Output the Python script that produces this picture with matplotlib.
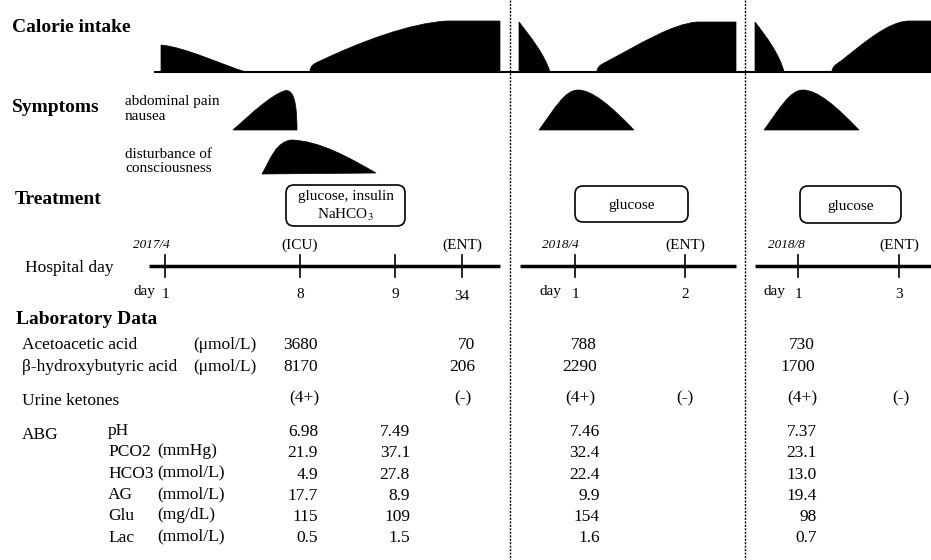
import matplotlib.pyplot as plt
import matplotlib.patches as mpatches
from matplotlib.path import Path

plt.rcParams['font.family'] = ['Liberation Serif', 'DejaVu Serif']
plt.rcParams['mathtext.fontset'] = 'stix'

# ---- data ----
episodes = ["2017/4", "2018/4", "2018/8"]
episode_days = [["1", "8", "9", "34"], ["1", "2"], ["1", "3"]]
day_notes = [["", "(ICU)", "", "(ENT)"], ["", "(ENT)"], ["", "(ENT)"]]
treatments = [["glucose, insulin", "NaHCO$_3$"], ["glucose"], ["glucose"]]

acetoacetic = ["3680", "70", "788", "730"]
hydroxybutyric = ["8170", "206", "2290", "1700"]
urine_ketones = ["(4+)", "(-)", "(4+)", "(-)", "(4+)", "(-)"]

abg_names = ["pH", "PCO2", "HCO3", "AG", "Glu", "Lac"]
abg_units = ["", "(mmHg)", "(mmol/L)", "(mmol/L)", "(mg/dL)", "(mmol/L)"]
abg_2017_day1 = ["6.98", "21.9", "4.9", "17.7", "115", "0.5"]
abg_2017_day9 = ["7.49", "37.1", "27.8", "8.9", "109", "1.5"]
abg_2018_4 = ["7.46", "32.4", "22.4", "9.9", "154", "1.6"]
abg_2018_8 = ["7.37", "23.1", "13.0", "19.4", "98", "0.7"]

# ---- layout (pixel space) ----
tl_extent = [(149, 500), (520, 736), (755, 931)]
tick_x = [[165, 300, 395, 462], [575, 685], [798, 899]]
date_x = [151, 560, 786]
day_word_x = [144, 550, 774]
box_extent = [(286, 405, 185, 226), (575, 688, 186, 222), (800, 901, 186, 223)]
divider_x = [510, 745]

fig = plt.figure(figsize=(9.31, 5.6), dpi=100)
ax = fig.add_axes([0, 0, 1, 1])
ax.set_xlim(0, 931)
ax.set_ylim(560, 0)
ax.axis('off')


def blob(start, segs):
    verts = [start]
    codes = [Path.MOVETO]
    for s in segs:
        if len(s) == 3:
            verts += list(s)
            codes += [Path.CURVE4] * 3
        else:
            verts.append(s[0])
            codes.append(Path.LINETO)
    verts.append(start)
    codes.append(Path.CLOSEPOLY)
    ax.add_patch(mpatches.PathPatch(Path(verts, codes), fc='black', ec='black', lw=0.5))


# headings
for txt, x, y in [("Calorie intake", 12, 27), ("Symptoms", 12, 108),
                  ("Treatment", 15, 200), ("Laboratory Data", 16, 319)]:
    ax.text(x, y, txt, fontsize=14, fontweight='bold', va='center')

# dividers
for x in divider_x:
    ax.plot([x, x], [0, 560], color='black', lw=1, ls=(0, (1.5, 1)))

# calorie intake
ax.plot([155, 931], [72, 72], color='black', lw=1.5)
blob((161, 72), [[(161, 45)], [(185, 47), (225, 66), (246, 72)]])
blob((310, 72), [[(310, 66), (313, 64), (320, 61)], [(360, 42), (410, 23), (447, 21)],
                 [(500, 21)], [(500, 72)]])
blob((519, 72), [[(519, 22)], [(530, 36), (545, 55), (550, 72)]])
blob((597, 72), [[(597, 67), (600, 65), (606, 62)], [(640, 44), (672, 24), (697, 22)],
                 [(736, 22)], [(736, 72)]])
blob((755, 72), [[(755, 22)], [(766, 36), (780, 55), (784, 72)]])
blob((832, 72), [[(832, 67), (835, 65), (841, 61)], [(865, 42), (888, 22), (908, 21)],
                 [(931, 21)], [(931, 72)]])

# symptoms
ax.text(125, 101, "abdominal pain", fontsize=11, va='center')
ax.text(125, 116, "nausea", fontsize=11, va='center')
ax.text(125, 154, "disturbance of", fontsize=11, va='center')
ax.text(125, 168, "consciousness", fontsize=11, va='center')
blob((233, 130), [[(252, 113), (270, 96), (284, 91)], [(293, 88), (297, 100), (297, 130)]])
blob((262, 174), [[(270, 160), (276, 141), (292, 140)], [(320, 141), (350, 158), (376, 173)]])
for x0 in [539, 764]:
    blob((x0, 130), [[(x0 + 16, 108), (x0 + 26, 90), (x0 + 39, 90)],
                     [(x0 + 53, 90), (x0 + 71, 105), (x0 + 95, 130)]])

# treatment boxes
for (x0, x1, y0, y1), lines in zip(box_extent, treatments):
    ax.add_patch(mpatches.FancyBboxPatch((x0, y0), x1 - x0, y1 - y0,
                 boxstyle="round,pad=0,rounding_size=8", fc='white', ec='black', lw=1.2))
    cy = (y0 + y1) / 2
    if len(lines) == 1:
        ax.text((x0 + x1) / 2, cy + 2, lines[0], fontsize=11, ha='center', va='center')
    else:
        ax.text((x0 + x1) / 2, cy - 9, lines[0], fontsize=11, ha='center', va='center')
        ax.text((x0 + x1) / 2, cy + 9, lines[1], fontsize=11, ha='center', va='center')

# hospital day timelines
ax.text(25, 268, "Hospital day", fontsize=12.5, va='center')
for i in range(3):
    ax.plot(tl_extent[i], [266, 266], color='black', lw=2.5, solid_capstyle='butt')
    ax.text(date_x[i], 245, episodes[i], fontsize=9.5, style='italic', ha='center', va='center')
    ax.text(day_word_x[i], 292, "day", fontsize=11, ha='center', va='center')
    for x, d, note in zip(tick_x[i], episode_days[i], day_notes[i]):
        ax.plot([x, x], [255, 277], color='black', lw=1.2)
        ax.text(x, 294 if len(d) == 1 else 296, d, fontsize=11, ha='center', va='center')
        if note:
            ax.text(x, 245, note, fontsize=11, ha='center', va='center')

# laboratory data
lab_fs = 12.5
ax.text(22, 345, "Acetoacetic acid", fontsize=lab_fs, va='center')
ax.text(22, 367, "β-hydroxybutyric acid", fontsize=lab_fs, va='center')
ax.text(193, 345, "(μmol/L)", fontsize=lab_fs, va='center')
ax.text(193, 367, "(μmol/L)", fontsize=lab_fs, va='center')
for x, a, b in zip([318, 475, 597, 815], acetoacetic, hydroxybutyric):
    ax.text(x, 345, a, fontsize=lab_fs, ha='right', va='center')
    ax.text(x, 367, b, fontsize=lab_fs, ha='right', va='center')

ax.text(22, 401, "Urine ketones", fontsize=lab_fs, va='center')
for x, u in zip([304, 463, 580, 685, 802, 901], urine_ketones):
    ax.text(x, 398, u, fontsize=lab_fs, ha='center', va='center')

ax.text(22, 435, "ABG", fontsize=lab_fs, va='center')
cols = [(318, abg_2017_day1), (410, abg_2017_day9), (600, abg_2018_4), (817, abg_2018_8)]
for j, (name, unit) in enumerate(zip(abg_names, abg_units)):
    y = 431 + 21.3 * j
    ax.text(108, y, name, fontsize=lab_fs, va='center')
    if unit:
        ax.text(157, y - 1, unit, fontsize=lab_fs, va='center')
    for x, vals in cols:
        ax.text(x, y + 1, vals[j], fontsize=lab_fs, ha='right', va='center')

fig.savefig("out.png", dpi=100)
